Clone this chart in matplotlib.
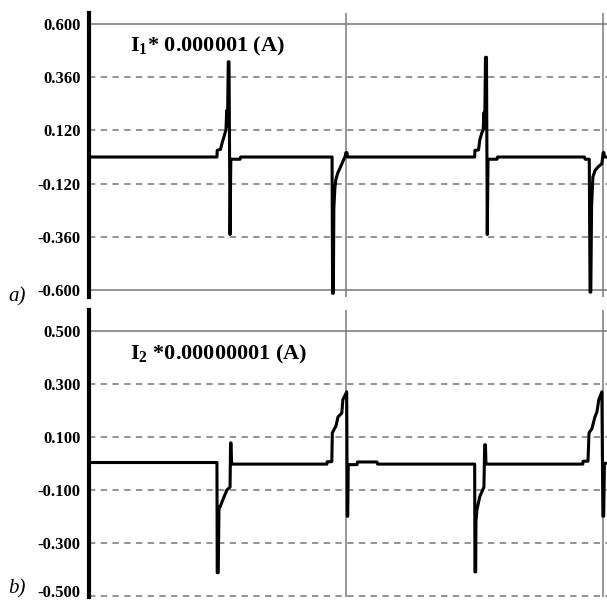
import matplotlib
matplotlib.use("Agg")
import matplotlib.pyplot as plt
import matplotlib.transforms as mtransforms

plt.rcParams['font.family'] = ['Liberation Serif', 'DejaVu Serif']
plt.rcParams['mathtext.fontset'] = 'custom'
plt.rcParams['mathtext.rm'] = 'Liberation Serif:bold'
plt.rcParams['mathtext.bf'] = 'Liberation Serif:bold'

# time axis in arbitrary units, vertical grid every 10
# I1 * 1e-6 (A)
i1_t = [0.00, 4.98, 4.99, 5.12, 5.18, 5.25, 5.31, 5.33, 5.36, 5.39, 5.42, 5.45, 5.49, 5.52,
        5.88, 5.90, 9.46, 9.48, 9.51, 9.53, 9.57, 9.61, 9.69, 9.77, 9.88, 9.96, 10.00, 10.04,
        10.06, 15.01, 15.02, 15.16, 15.21, 15.29, 15.34, 15.37, 15.40, 15.43, 15.47, 15.50,
        15.53, 15.88, 15.90, 19.28, 19.31, 19.47, 19.50, 19.53, 19.56, 19.61, 19.70, 19.81,
        19.96, 20.01, 20.04, 20.06, 20.20]
i1_v = [0.000, 0.000, 0.030, 0.035, 0.063, 0.090, 0.115, 0.120, 0.210, 0.140, 0.430, 0.430, -0.350, -0.010,
        -0.010, 0.000, 0.000, -0.615, -0.615, -0.230, -0.140, -0.100, -0.070, -0.050, -0.020, 0.000, 0.020, 0.020,
        0.000, 0.000, 0.030, 0.032, 0.077, 0.110, 0.120, 0.200, 0.130, 0.450, 0.450, -0.350,
        -0.010, -0.010, 0.000, 0.000, -0.010, -0.010, -0.610, -0.610, -0.225, -0.090, -0.060, -0.045,
        -0.030, 0.020, 0.020, 0.000, 0.000]

# I2 * 1e-8 (A)
i2_t = [0.00, 4.98, 4.99, 5.03, 5.06, 5.10, 5.20, 5.37, 5.49, 5.51, 5.53, 5.55,
        9.26, 9.27, 9.45, 9.47, 9.55, 9.61, 9.69, 9.84, 9.88, 10.03, 10.05, 10.07, 10.09,
        10.43, 10.45, 11.21, 11.23, 15.01, 15.02, 15.05, 15.06, 15.10, 15.21, 15.37, 15.40,
        15.43, 15.45, 19.22, 19.23, 19.42, 19.46, 19.57, 19.69, 19.77, 19.84, 19.96, 20.00,
        20.03, 20.06, 20.20]
i2_v = [0.003, 0.003, -0.413, -0.413, -0.165, -0.165, -0.140, -0.100, -0.090, 0.077, 0.077, -0.003,
        -0.003, 0.006, 0.006, 0.115, 0.130, 0.140, 0.175, 0.190, 0.240, 0.270, -0.200, -0.200, -0.005,
        -0.005, 0.005, 0.005, -0.003, -0.003, -0.410, -0.410, -0.220, -0.175, -0.125, -0.090, 0.070,
        0.070, -0.003, -0.003, 0.008, 0.008, 0.115, 0.130, 0.175, 0.195, 0.240, 0.270, -0.200,
        -0.200, 0.000, 0.000]

ticks1 = [0.6, 0.36, 0.12, -0.12, -0.36, -0.6]
labels1 = ['0.600', '0.360', '0.120', '-0.120', '-0.360', '-0.600']
ticks2 = [0.5, 0.3, 0.1, -0.1, -0.3, -0.5]
labels2 = ['0.500', '0.300', '0.100', '-0.100', '-0.300', '-0.500']
vgrid = [10, 20]

fig = plt.figure(figsize=(6.07, 6.02), dpi=100)
ax1 = fig.add_axes([0.1466, 0.5066, 0.8534, 0.4718])
ax2 = fig.add_axes([0.1466, 0.0083, 0.8534, 0.4767])


def style(ax, t, v, ticks, labels, ylim, solid, title, ty):
    for y in ticks:
        if y in solid:
            ax.axhline(y, color='#8a8a8a', lw=1.3, zorder=1)
        else:
            ax.axhline(y, color='#8a8a8a', lw=1.3, ls=(0, (3.5, 3)), zorder=1)
    for x in vgrid:
        ax.axvline(x, color='#7a7a7a', lw=1.1, zorder=1)
    ax.plot(t, v, color='black', lw=2.2, zorder=3)
    ax.set_xlim(0, 20.16)
    ax.set_ylim(*ylim)
    ax.set_xticks([])
    ax.set_yticks(ticks)
    ax.set_yticklabels(labels, fontweight='bold', fontsize=12)
    ax.tick_params(axis='y', length=0, pad=6)
    for s in ['top', 'right', 'bottom']:
        ax.spines[s].set_visible(False)
    ax.spines['left'].set_linewidth(3)
    ax.text(1.6, ty, title, fontsize=16, fontweight='bold', va='center')


style(ax1, i1_t, i1_v, ticks1, labels1, (-0.632, 0.65), [0.6, -0.6],
      r'I$_{1}$* 0.000001 (A)', 0.5)
style(ax2, i2_t, i2_v, ticks2, labels2, (-0.505, 0.579), [0.5],
      r'I$_{2}$ *0.00000001 (A)', 0.41)

# keep the lowest label inside the picture
last = ax2.get_yticklabels()[-1]
last.set_transform(last.get_transform() + mtransforms.ScaledTranslation(0, 5 / 100, fig.dpi_scale_trans))

fig.text(0.013, 0.507, 'a)', fontsize=15, style='italic', va='center')
fig.text(0.013, 0.022, 'b)', fontsize=15, style='italic', va='center')

fig.savefig('out.png', dpi=100)
